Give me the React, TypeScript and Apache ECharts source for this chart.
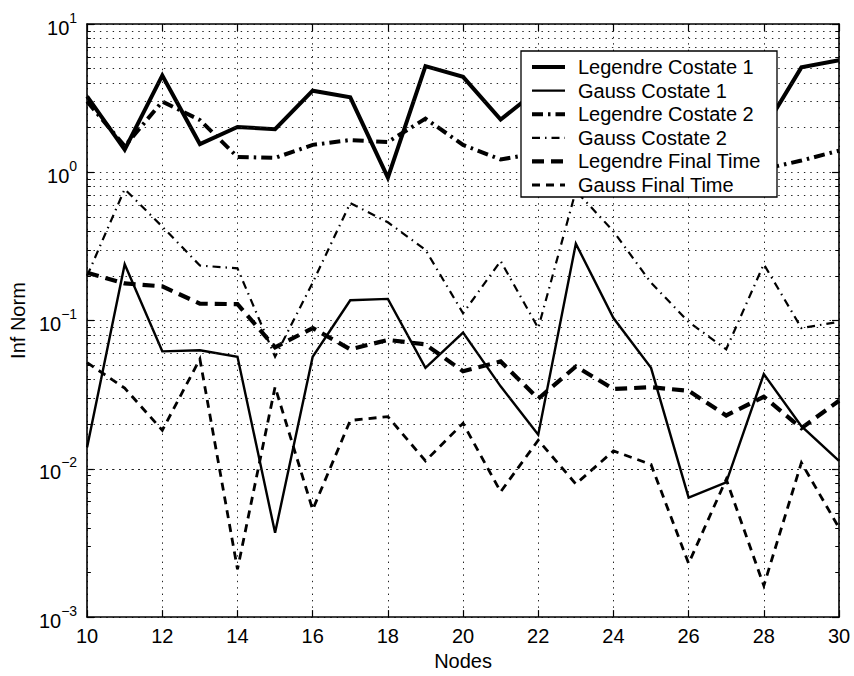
import { useEffect, useRef } from "react";
import * as echarts from "echarts";

// Number of collocation nodes
const NODES = [10, 11, 12, 13, 14, 15, 16, 17, 18, 19, 20, 21, 22, 23, 24, 25, 26, 27, 28, 29, 30];

// Infinity-norm errors per method
const LEGENDRE_COSTATE_1 = [3.25, 1.42, 4.5, 1.55, 2.02, 1.95, 3.55, 3.2, 0.92, 5.2, 4.4, 2.27, 3.6, 2.5, 3.2, 2.4, 3.0, 2.2, 1.94, 5.1, 5.7];
const GAUSS_COSTATE_1 = [0.014, 0.24, 0.062, 0.063, 0.057, 0.0037, 0.057, 0.137, 0.14, 0.048, 0.083, 0.036, 0.017, 0.33, 0.104, 0.048, 0.0064, 0.0081, 0.0435, 0.0194, 0.0113];
const LEGENDRE_COSTATE_2 = [3.0, 1.5, 3.0, 2.25, 1.27, 1.25, 1.53, 1.65, 1.6, 2.3, 1.53, 1.22, 1.35, 1.6, 1.3, 1.5, 1.1, 1.25, 1.05, 1.2, 1.4];
const GAUSS_COSTATE_2 = [0.2, 0.77, 0.43, 0.235, 0.225, 0.057, 0.18, 0.62, 0.46, 0.3, 0.112, 0.252, 0.089, 0.75, 0.4, 0.18, 0.098, 0.064, 0.24, 0.089, 0.098];
const LEGENDRE_FINAL_TIME = [0.21, 0.178, 0.17, 0.13, 0.129, 0.066, 0.089, 0.064, 0.074, 0.069, 0.0455, 0.053, 0.0297, 0.049, 0.0346, 0.0355, 0.0336, 0.0229, 0.0306, 0.0188, 0.0288];
const GAUSS_FINAL_TIME = [0.052, 0.035, 0.0182, 0.055, 0.0021, 0.0357, 0.0053, 0.0212, 0.0225, 0.0113, 0.0203, 0.007, 0.0156, 0.0079, 0.0132, 0.0107, 0.0023, 0.0085, 0.00163, 0.011, 0.004];

// Axis ranges
const X_MIN = 10;
const X_MAX = 30;
const X_STEP = 2;
const Y_MIN = 1e-3;
const Y_MAX = 1e1;
const DECADES = [1e-3, 1e-2, 1e-1, 1];
const MINOR_MULTIPLIERS = [2, 3, 4, 5, 6, 7, 8, 9];

const FONT = "'Liberation Sans', Arial, Helvetica, sans-serif";
const DOTTED = [1.4, 5];

type LineDef = { name: string; values: number[]; width: number; dash: "solid" | number[] };

const LINES: LineDef[] = [
  { name: "Legendre Costate 1", values: LEGENDRE_COSTATE_1, width: 4, dash: "solid" },
  { name: "Gauss Costate 1", values: GAUSS_COSTATE_1, width: 2.4, dash: "solid" },
  { name: "Legendre Costate 2", values: LEGENDRE_COSTATE_2, width: 4, dash: [11, 5, 2.5, 5] },
  { name: "Gauss Costate 2", values: GAUSS_COSTATE_2, width: 2.2, dash: [8, 5, 1.5, 5] },
  { name: "Legendre Final Time", values: LEGENDRE_FINAL_TIME, width: 4.2, dash: [12, 7] },
  { name: "Gauss Final Time", values: GAUSS_FINAL_TIME, width: 2.8, dash: [8, 6] },
];

const MINUS = "\u2212";

export default function App() {
  const ref = useRef<HTMLDivElement>(null);

  useEffect(() => {
    if (!ref.current) return;
    const chart = echarts.init(ref.current, undefined, { renderer: "svg" });

    const minorValues: number[] = [];
    DECADES.forEach((d) => MINOR_MULTIPLIERS.forEach((m) => minorValues.push(d * m)));

    // inward minor tick length, in x data units (about 4 px)
    const tickX = 0.1;

    const lineSeries = LINES.map((l) => ({
      name: l.name,
      type: "line",
      z: 3,
      symbol: "none",
      silent: true,
      data: NODES.map((x, i) => [x, l.values[i]]),
      lineStyle: {
        color: "#000",
        width: l.width,
        type: l.dash,
        cap: "butt",
        join: "miter",
      },
    }));

    const legendX = 521;
    const legendY = 51;
    const rowH = 23.6;
    const legendChildren: any[] = [
      {
        type: "rect",
        z: 100,
        shape: { x: 0, y: 0, width: 256, height: 146 },
        style: { fill: "#fff", stroke: "#000", lineWidth: 1.3 },
      },
    ];
    LINES.forEach((l, i) => {
      const cy = 16 + i * rowH;
      legendChildren.push({
        type: "line",
        z: 101,
        shape: { x1: 11, y1: cy, x2: 44, y2: cy },
        style: {
          stroke: "#000",
          lineWidth: l.width,
          lineDash: l.dash === "solid" ? null : l.dash,
          lineCap: "butt",
        },
      });
      legendChildren.push({
        type: "text",
        z: 101,
        x: 57,
        y: cy,
        style: {
          text: l.name,
          fontSize: 20,
          fontFamily: FONT,
          fill: "#000",
          verticalAlign: "middle",
          align: "left",
        },
      });
    });

    const option: any = {
      animation: false,
      backgroundColor: "#fff",
      grid: { left: 79, top: 24, right: 15, bottom: 49, containLabel: false },
      xAxis: [
        {
          type: "value",
          min: X_MIN,
          max: X_MAX,
          interval: X_STEP,
          name: "Nodes",
          nameLocation: "middle",
          nameGap: 29,
          nameTextStyle: { fontSize: 20, fontFamily: FONT, color: "#000" },
          axisLine: { show: true, lineStyle: { color: "#000", width: 1.6 } },
          axisTick: { show: true, inside: true, length: 7, lineStyle: { color: "#000", width: 1.2 } },
          axisLabel: { fontSize: 20, fontFamily: FONT, color: "#000", margin: 9 },
          splitLine: { show: true, lineStyle: { color: "#222", width: 1, type: DOTTED } },
        },
        {
          type: "value",
          position: "top",
          min: X_MIN,
          max: X_MAX,
          interval: X_STEP,
          axisLine: { show: true, lineStyle: { color: "#000", width: 1.6 } },
          axisTick: { show: true, inside: true, length: 7, lineStyle: { color: "#000", width: 1.2 } },
          axisLabel: { show: false },
          splitLine: { show: false },
        },
      ],
      yAxis: [
        {
          type: "log",
          logBase: 10,
          min: Y_MIN,
          max: Y_MAX,
          name: "Inf Norm",
          nameLocation: "middle",
          nameGap: 49,
          nameTextStyle: { fontSize: 20, fontFamily: FONT, color: "#000" },
          axisLine: { show: true, lineStyle: { color: "#000", width: 1.6 } },
          axisTick: { show: true, inside: true, length: 7, lineStyle: { color: "#000", width: 1.2 } },
          axisLabel: {
            margin: 10,
            formatter: (v: number) => {
              const e = Math.round(Math.log10(v));
              const s = e < 0 ? MINUS + Math.abs(e) : String(e);
              return `{b|10}{e|${s}}`;
            },
            rich: {
              b: { fontSize: 20, fontFamily: FONT, color: "#000", lineHeight: 27, verticalAlign: "bottom" },
              e: { fontSize: 14, fontFamily: FONT, color: "#000", lineHeight: 27, verticalAlign: "top" },
            },
          },
          splitLine: { show: true, lineStyle: { color: "#222", width: 1, type: DOTTED } },
        },
        {
          type: "log",
          logBase: 10,
          min: Y_MIN,
          max: Y_MAX,
          position: "right",
          axisLine: { show: true, lineStyle: { color: "#000", width: 1.6 } },
          axisTick: { show: true, inside: true, length: 7, lineStyle: { color: "#000", width: 1.2 } },
          axisLabel: { show: false },
          splitLine: { show: false },
        },
      ],
      series: [
        {
          name: "minor-grid",
          type: "line",
          z: 1,
          data: [],
          silent: true,
          markLine: {
            silent: true,
            symbol: ["none", "none"],
            label: { show: false },
            lineStyle: { color: "#222", width: 1, type: DOTTED },
            data: minorValues.map((v) => ({ yAxis: v })),
          },
        },
        {
          name: "minor-ticks",
          type: "line",
          z: 1,
          data: [],
          silent: true,
          markLine: {
            silent: true,
            symbol: ["none", "none"],
            label: { show: false },
            lineStyle: { color: "#000", width: 1, type: "solid" },
            data: minorValues.flatMap((v) => [
              [{ coord: [X_MIN, v] }, { coord: [X_MIN + tickX, v] }],
              [{ coord: [X_MAX - tickX, v] }, { coord: [X_MAX, v] }],
            ]),
          },
        },
        ...lineSeries,
      ],
      graphic: [
        {
          type: "group",
          x: legendX,
          y: legendY,
          z: 100,
          children: legendChildren,
        },
      ],
    };

    chart.setOption(option);
    return () => chart.dispose();
  }, []);

  return (
    <div
      ref={ref}
      style={{ position: "fixed", left: 0, top: 0, width: 854, height: 676, background: "#fff" }}
    />
  );
}
